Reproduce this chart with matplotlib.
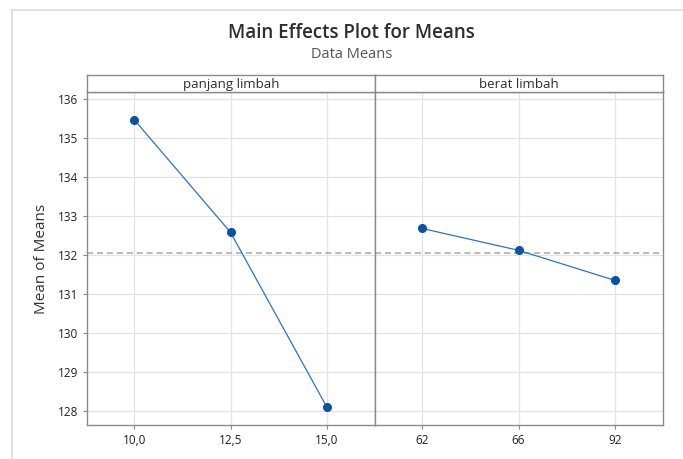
import matplotlib
matplotlib.use("Agg")
import matplotlib.pyplot as plt
from matplotlib.lines import Line2D

plt.rcParams['font.family'] = ['Open Sans', 'DejaVu Sans']

# data
factors = ["panjang limbah", "berat limbah"]
panjang_levels = ["10,0", "12,5", "15,0"]
panjang_means = [135.47, 132.58, 128.10]
berat_levels = ["62", "66", "92"]
berat_means = [132.68, 132.12, 131.35]
grand_mean = 132.05
y_ticks = [128, 129, 130, 131, 132, 133, 134, 135, 136]

fig = plt.figure(figsize=(6.83, 4.59), dpi=100)

# light outer frame like the screenshot
fig.add_artist(Line2D([11.5 / 683, 11.5 / 683], [0, 1 - 9.5 / 459], color="#dcdcdc", lw=1.2))
fig.add_artist(Line2D([11.5 / 683, 1], [1 - 9.5 / 459, 1 - 9.5 / 459], color="#dcdcdc", lw=1.2))

fig.text(0.515, 1 - 33 / 459, "Main Effects Plot for Means", ha="center", va="center",
         fontsize=13.5, color="#2e2e2e", fontweight="semibold")
fig.text(0.515, 1 - 54 / 459, "Data Means", ha="center", va="center",
         fontsize=10.5, color="#555555")

left = 87 / 683
pw = 288 / 683
bottom = 1 - 425 / 459
ph = 333 / 459
strip_h = 17 / 459
spine_col = "#8a8a8a"

panels = [(panjang_levels, panjang_means), (berat_levels, berat_means)]
for i, (levels, means) in enumerate(panels):
    ax = fig.add_axes([left + i * pw, bottom, pw, ph])
    xs = list(range(len(levels)))
    ax.plot(xs, means, color="#2a74c4", lw=0.9, zorder=3)
    ax.plot(xs, means, "o", color="#0a52a3", ms=5.5, zorder=4)
    ax.axhline(grand_mean, color="#a8a8a8", lw=1.1, ls=(0, (4, 2.5)), zorder=2)
    ax.set_xlim(-0.49, 2.5)
    ax.set_ylim(127.64, 136.18)
    ax.set_xticks(xs)
    ax.set_xticklabels(levels)
    ax.set_yticks(y_ticks)
    ax.grid(True, color="#e3e3e3", lw=0.9)
    ax.set_axisbelow(True)
    for s in ax.spines.values():
        s.set_color(spine_col)
        s.set_linewidth(1.0)
    ax.tick_params(axis="both", labelsize=8.5, colors="#222222", length=3,
                   width=0.8, direction="out")
    ax.tick_params(axis="x", color=spine_col)
    ax.tick_params(axis="y", color=spine_col)
    for lab in ax.get_xticklabels() + ax.get_yticklabels():
        lab.set_fontweight("medium")
    if i == 0:
        ax.set_ylabel("Mean of Means", fontsize=11, color="#333333", labelpad=6)
    else:
        ax.tick_params(axis="y", left=False, labelleft=False)

    sax = fig.add_axes([left + i * pw, bottom + ph, pw, strip_h])
    sax.set_xticks([])
    sax.set_yticks([])
    for s in sax.spines.values():
        s.set_color(spine_col)
        s.set_linewidth(1.0)
    sax.text(0.5, 0.45, factors[i], ha="center", va="center", fontsize=9.5,
             color="#2e2e2e", transform=sax.transAxes)

fig.savefig("out.png", dpi=100)
